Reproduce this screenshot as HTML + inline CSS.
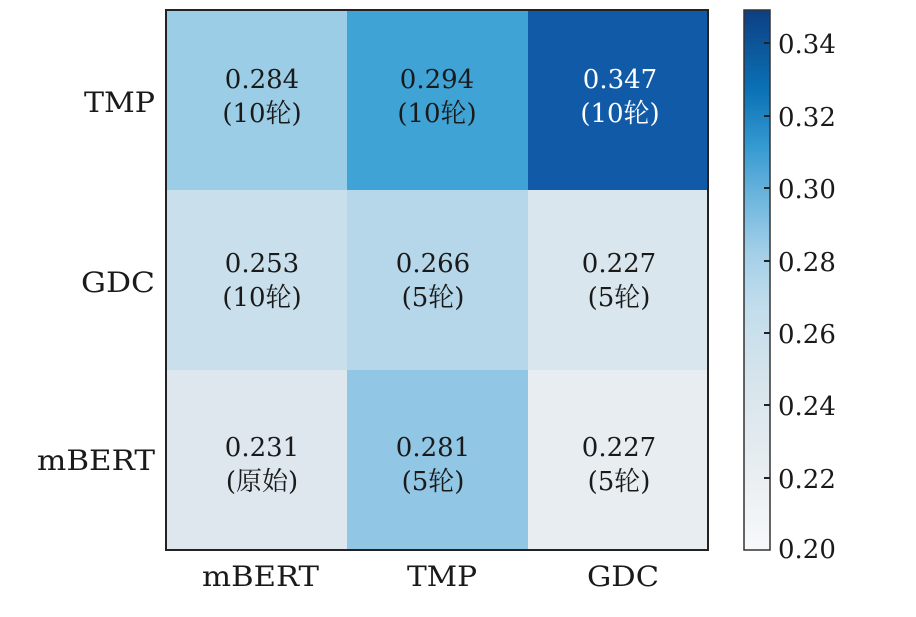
<!DOCTYPE html>
<html><head><meta charset="utf-8"><style>body{margin:0;background:#fff}svg{display:block}</style></head><body>
<svg width="916" height="617" xmlns="http://www.w3.org/2000/svg" font-family="DejaVu Serif, Noto Serif CJK SC, serif" font-size="26" fill="#1a1a1a">
<defs><linearGradient id="g" x1="0" y1="1" x2="0" y2="0">
<stop offset="0" stop-color="#f7f9fa"/><stop offset="0.15" stop-color="#e8edf1"/><stop offset="0.3" stop-color="#d8e5ec"/><stop offset="0.45" stop-color="#c2ddec"/><stop offset="0.55" stop-color="#a3cfe8"/><stop offset="0.65" stop-color="#6fb6de"/><stop offset="0.75" stop-color="#3499d0"/><stop offset="0.85" stop-color="#0b72b6"/><stop offset="1" stop-color="#0d3f83"/></linearGradient></defs>
<rect x="166" y="10" width="181" height="180" fill="#9ccde6"/>
<rect x="347" y="10" width="181" height="180" fill="#40a3d5"/>
<rect x="528" y="10" width="180" height="180" fill="#115aa8"/>
<rect x="166" y="190" width="181" height="180" fill="#c9e0ec"/>
<rect x="347" y="190" width="181" height="180" fill="#b6d7ea"/>
<rect x="528" y="190" width="180" height="180" fill="#d9e6ed"/>
<rect x="166" y="370" width="181" height="180" fill="#dee7ed"/>
<rect x="347" y="370" width="181" height="180" fill="#91c6e4"/>
<rect x="528" y="370" width="180" height="180" fill="#e7edf1"/>
<rect x="166" y="10" width="542" height="540" fill="none" stroke="#222" stroke-width="2"/>
<g text-anchor="middle">
<text x="262" y="88">0.284</text><text x="262" y="122">(10轮)</text>
<text x="437" y="88">0.294</text><text x="437" y="122">(10轮)</text>
<text x="620" y="88" fill="#fff">0.347</text><text x="620" y="122" fill="#fff">(10轮)</text>
<text x="262" y="272">0.253</text><text x="262" y="306">(10轮)</text>
<text x="433" y="272">0.266</text><text x="433" y="306">(5轮)</text>
<text x="619" y="272">0.227</text><text x="619" y="306">(5轮)</text>
<text x="262" y="456">0.231</text><text x="262" y="490">(原始)</text>
<text x="433" y="456">0.281</text><text x="433" y="490">(5轮)</text>
<text x="619" y="456">0.227</text><text x="619" y="490">(5轮)</text>
</g>
<g font-size="28">
<text x="202" y="586" textLength="117" lengthAdjust="spacingAndGlyphs">mBERT</text>
<text x="407" y="586" textLength="70" lengthAdjust="spacingAndGlyphs">TMP</text>
<text x="587" y="586" textLength="72" lengthAdjust="spacingAndGlyphs">GDC</text>
<text x="84" y="112" textLength="71" lengthAdjust="spacingAndGlyphs">TMP</text>
<text x="81" y="292" textLength="74" lengthAdjust="spacingAndGlyphs">GDC</text>
<text x="37" y="470" textLength="118" lengthAdjust="spacingAndGlyphs">mBERT</text>
</g>
<rect x="744" y="10" width="26" height="540" fill="url(#g)" stroke="#333" stroke-width="1.5"/>
<g stroke="#222" stroke-width="2">
<line x1="764" x2="770" y1="43" y2="43"/><line x1="764" x2="770" y1="116" y2="116"/><line x1="764" x2="770" y1="188" y2="188"/><line x1="764" x2="770" y1="261" y2="261"/><line x1="764" x2="770" y1="333" y2="333"/><line x1="764" x2="770" y1="405" y2="405"/><line x1="764" x2="770" y1="478" y2="478"/>
</g>
<g>
<text x="778" y="53">0.34</text><text x="778" y="126">0.32</text><text x="778" y="198">0.30</text><text x="778" y="271">0.28</text><text x="778" y="343">0.26</text><text x="778" y="415">0.24</text><text x="778" y="488">0.22</text><text x="778" y="558">0.20</text>
</g>
</svg>
</body></html>
